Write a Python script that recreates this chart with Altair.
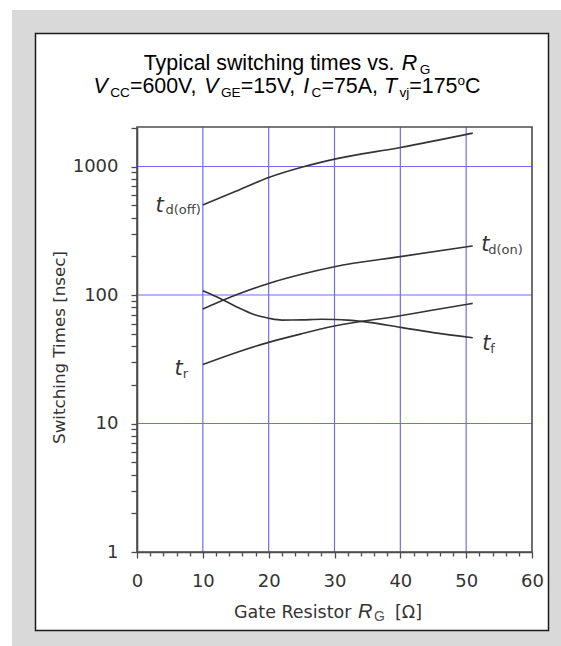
import altair as alt
import pandas as pd

# ---------------- data ----------------
rg_td_off = [10, 15, 20, 25, 30, 40, 51]
td_off = [503, 641, 821, 986, 1142, 1406, 1820]

rg_td_on = [10, 15, 20, 25, 30, 40, 51]
td_on = [77.8, 100, 123, 145, 166, 199, 241]

rg_tr = [10, 15, 20, 25, 30, 40, 45, 51]
tr = [28.8, 35.6, 42.8, 49.9, 57.3, 69, 76.4, 86.1]

rg_tf = [10, 12, 14, 16, 18, 20, 22, 25, 28, 30, 32, 35, 40, 45, 51]
tf = [108, 97.3, 86.6, 77.1, 69.8, 66, 63.8, 64, 64.7, 64.5, 63.8, 61.5, 56, 51, 46.5]

x_ticks = list(range(0, 61, 2))
x_grid = [10, 20, 30, 40, 50]
y_ticks = [1, 2, 3, 4, 5, 6, 7, 8, 9,
           10, 20, 30, 40, 50, 60, 70, 80, 90,
           100, 200, 300, 400, 500, 600, 700, 800, 900,
           1000, 2000]
y_grid = [10, 100, 1000]
y_labels = [1, 10, 100, 1000]

title_line1 = [("Typical switching times vs. ", "n"), ("R", "i"), ("G", "sub")]
title_line2 = [("V", "i"), ("CC", "sub"), ("=600V, ", "n"), ("V", "i"), ("GE", "sub"),
               ("=15V, ", "n"), ("I", "i"), ("C", "sub"), ("=75A, ", "n"),
               ("T", "i"), ("vj", "sub"), ("=175", "n"), ("o", "sup"), ("C", "n")]
y_title = "Switching Times [nsec]"
x_title_parts = ["Gate Resistor ", "R", "G", "[Ω]"]

# ---------------- layout ----------------
L, T, W, H = 137, 127, 395, 425
TOTAL_W, TOTAL_H = 561, 646

ARIAL = {' ': 278, 'T': 611, 'y': 500, 'p': 556, 'i': 222, 'c': 500, 'a': 556, 'l': 222,
         's': 500, 'w': 722, 't': 278, 'h': 556, 'n': 556, 'g': 556, 'm': 833, 'e': 556,
         'v': 500, '.': 278, 'R': 722, 'G': 778, 'V': 667, 'C': 722, 'E': 667, '=': 584,
         ',': 278, 'I': 278, 'A': 667, 'o': 556, 'j': 222}


def arial_w(s, size):
    return sum(ARIAL.get(ch, 556) for ch in s) * size / 1000.0


one = alt.Data(values=[{"k": 1}])

xs = alt.Scale(domain=[0, 60], nice=False, zero=False)
ys = alt.Scale(type="log", domain=[1, 2030], nice=False)

MAIN_FONT = "DejaVu Sans"
AX_COL = "#4d4d4d"
TXT_COL = "#333333"
GRID_COL = "#6e6ef5"

x_axis = alt.Axis(values=x_ticks, title=None, grid=False, zindex=1,
                  labelExpr="datum.value % 10 === 0 ? datum.label : ''",
                  labelFlush=False, labelOverlap=False,
                  tickSize={"condition": {"test": "datum.value % 10 === 0", "value": 6}, "value": 4},
                  labelPadding=14,
                  labelFont=MAIN_FONT, labelFontSize=18, labelColor=TXT_COL,
                  domainColor=AX_COL, domainWidth=1.6, tickColor=AX_COL, tickWidth=1.3)
y_axis = alt.Axis(values=y_ticks, title=y_title, grid=False, zindex=1,
                  labelExpr="indexof([1, 10, 100, 1000], datum.value) >= 0 ? format(datum.value, 'd') : ''",
                  labelFlush=False, labelOverlap=False,
                  tickSize=6, labelPadding=13,
                  labelFont=MAIN_FONT, labelFontSize=18, labelColor=TXT_COL,
                  domainColor=AX_COL, domainWidth=1.6, tickColor=AX_COL, tickWidth=1.3,
                  titleFont=MAIN_FONT, titleFontSize=16.7, titleFontWeight="normal",
                  titleColor=TXT_COL,
                  titleX=-73, titleY=220, titleAngle=270, titleBaseline="alphabetic",
                  titleAlign="center")

layers = []

# outer grey background and white framed box
layers.append(alt.Chart(one).mark_rect(fill="#d9d9d9").encode(
    x=alt.value(12 - L), x2=alt.value(TOTAL_W - L),
    y=alt.value(10 - T), y2=alt.value(TOTAL_H - T)))
layers.append(alt.Chart(one).mark_rect(fill="#ffffff", stroke="#1a1a1a", strokeWidth=1.5).encode(
    x=alt.value(35.5 - L), x2=alt.value(548.5 - L),
    y=alt.value(33.5 - T), y2=alt.value(630.5 - T)))

# grid lines
gx = pd.DataFrame({"rg": x_grid})
gy = pd.DataFrame({"t": y_grid})
layers.append(alt.Chart(gx).mark_rule(color=GRID_COL, strokeWidth=1.2).encode(
    x=alt.X("rg:Q", scale=xs, axis=x_axis), y=alt.value(0), y2=alt.value(H)))
layers.append(alt.Chart(gy).mark_rule(color=GRID_COL, strokeWidth=1.2).encode(
    y=alt.Y("t:Q", scale=ys, axis=y_axis), x=alt.value(0), x2=alt.value(W)))

# plot frame
layers.append(alt.Chart(one).mark_rect(fillOpacity=0, stroke=AX_COL, strokeWidth=1.6).encode(
    x=alt.value(0), x2=alt.value(W), y=alt.value(0), y2=alt.value(H)))

# curves
series = [("td_off", rg_td_off, td_off), ("td_on", rg_td_on, td_on),
          ("tr", rg_tr, tr), ("tf", rg_tf, tf)]
rows = []
for name, xv, yv in series:
    for a, b in zip(xv, yv):
        rows.append({"series": name, "rg": a, "t": b})
curves = pd.DataFrame(rows)

layers.append(alt.Chart(curves).mark_line(color="#333333", strokeWidth=1.6, interpolate="monotone").encode(
    x=alt.X("rg:Q", scale=xs, axis=x_axis),
    y=alt.Y("t:Q", scale=ys, axis=y_axis),
    detail="series:N", order="rg:Q"))


# curve labels anchored on the curve ends
def curve_label(xv, yv, first, sub, t_dx, t_dy, t_align, s_dx, s_dy, s_align):
    idx = 0 if first else -1
    d = pd.DataFrame({"rg": [xv[idx]], "t": [yv[idx]]})
    base = alt.Chart(d)
    m = base.mark_text(text="t", font=MAIN_FONT, fontSize=21, fontStyle="italic", color="#333333",
                       align=t_align, baseline="alphabetic", dx=t_dx, dy=t_dy).encode(
        x=alt.X("rg:Q", scale=xs, axis=x_axis), y=alt.Y("t:Q", scale=ys, axis=y_axis))
    s = base.mark_text(text=sub, font=MAIN_FONT, fontSize=13, color="#444444",
                       align=s_align, baseline="alphabetic", dx=s_dx, dy=s_dy).encode(
        x=alt.X("rg:Q", scale=xs, axis=x_axis), y=alt.Y("t:Q", scale=ys, axis=y_axis))
    return [m, s]


layers += curve_label(rg_td_off, td_off, True, "d(off)", -39, 7, "right", -2, 9.5, "right")
layers += curve_label(rg_tr, tr, True, "r", -20, 11, "right", -20, 13.5, "left")
layers += curve_label(rg_td_on, td_on, False, "d(on)", 8.5, 5, "left", 15.5, 8, "left")
layers += curve_label(rg_tf, tf, False, "f", 9.5, 12.5, "left", 17.5, 15, "left")

# chart title (two lines with sub/superscripts)
TITLE_FONT = "Liberation Sans"
BIG, SMALL = 21.4, 13.6
center_x = 287 - L


def title_line(parts, baseline_y):
    sizes = {"n": BIG, "i": BIG, "sub": SMALL, "sup": SMALL}
    widths = [arial_w(txt, sizes[k]) + (2.5 if k == "i" else 0) for txt, k in parts]
    x = center_x - sum(widths) / 2
    out = []
    for (txt, k), w in zip(parts, widths):
        dy = 4 if k == "sub" else (-8 if k == "sup" else 0)
        out.append(alt.Chart(one).mark_text(
            text=txt, font=TITLE_FONT, fontSize=sizes[k],
            fontStyle="italic" if k == "i" else "normal",
            color="#000000", align="left", baseline="alphabetic").encode(
            x=alt.value(x), y=alt.value(baseline_y + dy)))
        x += w
    return out


layers += title_line(title_line1, 70 - T)
layers += title_line(title_line2, 93 - T)

# x-axis title with italic R and subscript G
xt_base = 617.5 - T
xt = [
    (x_title_parts[0], 234 - L, xt_base, MAIN_FONT, 17.5, "normal", TXT_COL),
    (x_title_parts[1], 358 - L, xt_base, TITLE_FONT, 20, "italic", TXT_COL),
    (x_title_parts[2], 374 - L, xt_base + 3, TITLE_FONT, 14, "normal", "#555555"),
    (x_title_parts[3], 395 - L, xt_base, MAIN_FONT, 17.5, "normal", TXT_COL),
]
for txt, px, py, fnt, sz, st, col in xt:
    layers.append(alt.Chart(one).mark_text(
        text=txt, font=fnt, fontSize=sz, fontStyle=st, color=col,
        align="left", baseline="alphabetic").encode(x=alt.value(px), y=alt.value(py)))

chart = alt.layer(*layers).properties(
    width=W, height=H,
    autosize=alt.AutoSizeParams(type="none"),
    padding={"left": L, "top": T, "right": TOTAL_W - L - W, "bottom": TOTAL_H - T - H},
    background="#ffffff",
).configure_view(stroke=None)

chart.save("out.html", embed_options={"renderer": "svg", "actions": False})
